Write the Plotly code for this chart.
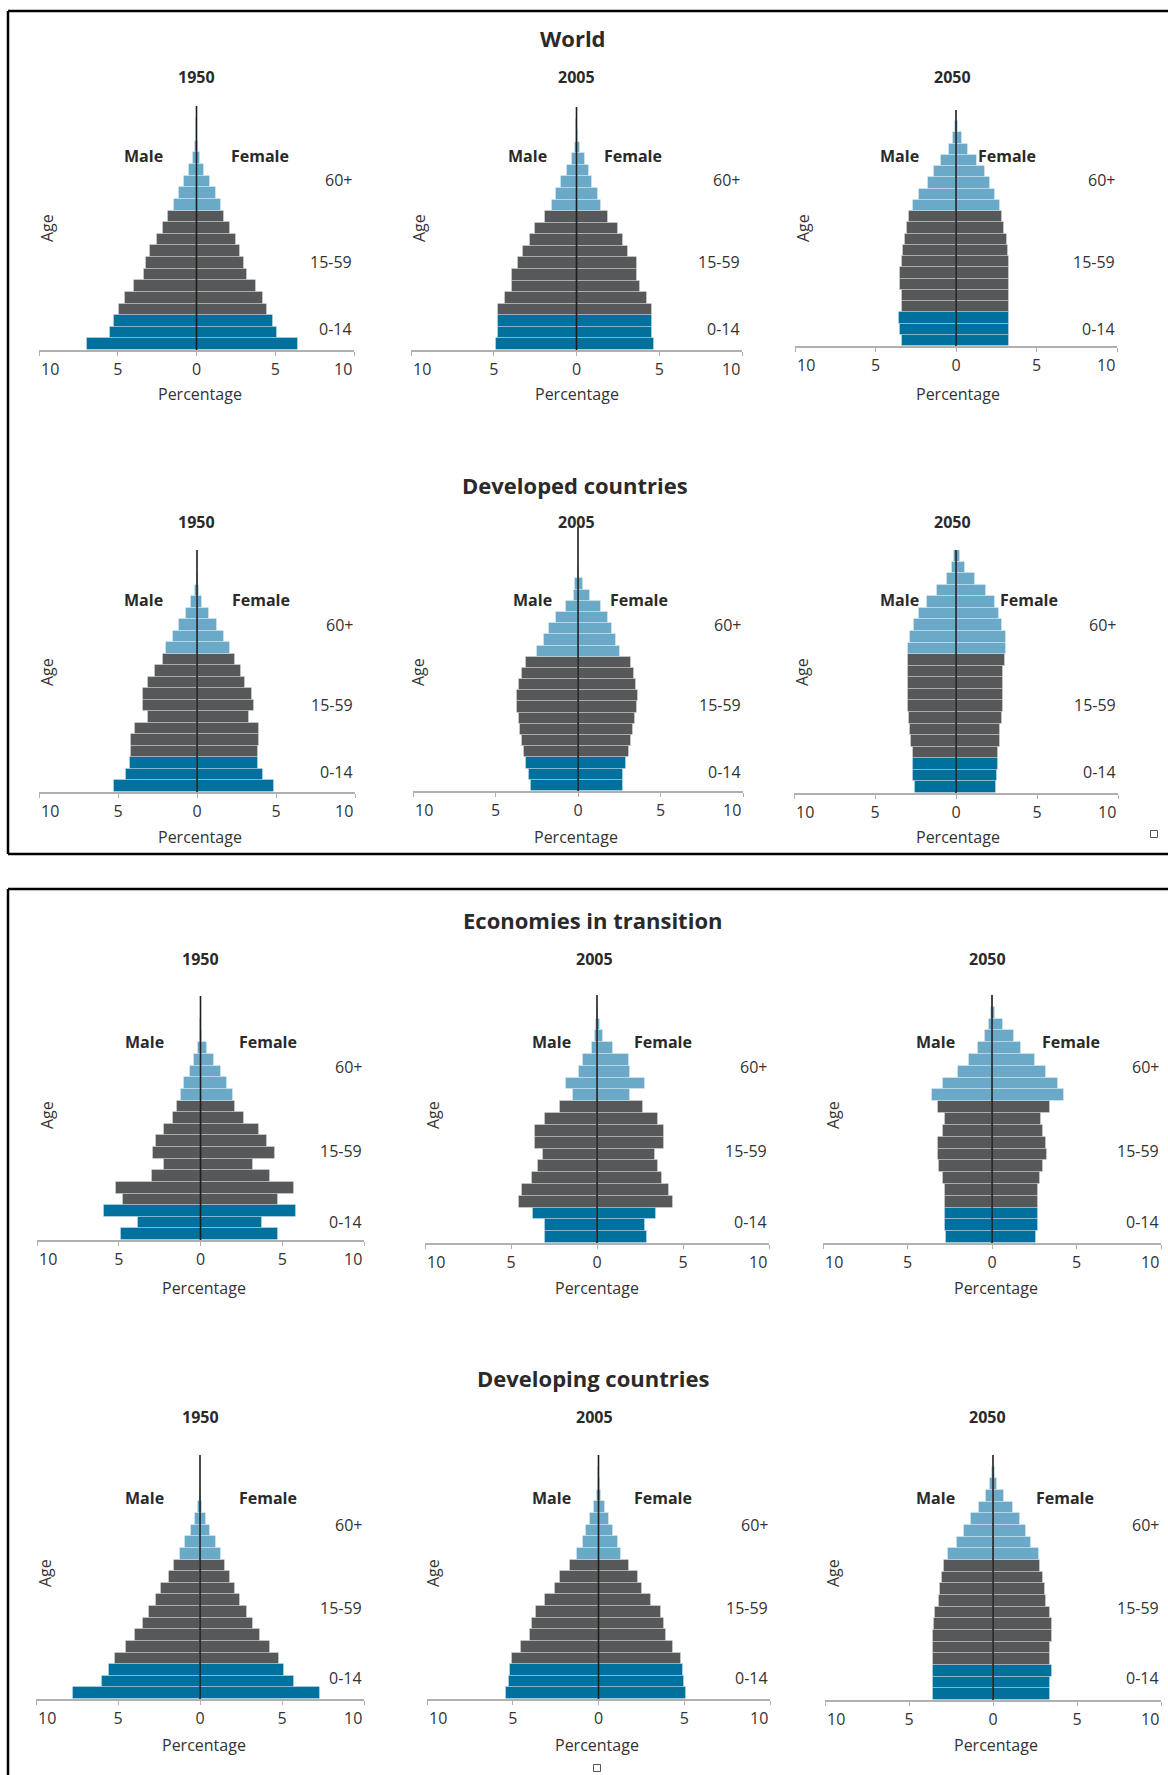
import plotly.graph_objects as go

W, H = 1168, 1775

# ---------------- data ----------------
AGES = ["0-4", "5-9", "10-14", "15-19", "20-24", "25-29", "30-34", "35-39", "40-44",
        "45-49", "50-54", "55-59", "60-64", "65-69", "70-74", "75-79", "80-84",
        "85-89", "90-94", "95-99", "100+"]
BROAD = ["0-14"] * 3 + ["15-59"] * 9 + ["60+"] * 9
BAND_LABELS = ["60+", "15-59", "0-14"]
REGIONS = ["World", "Developed countries", "Economies in transition", "Developing countries"]
YEARS = ["1950", "2005", "2050"]
TICK_VALS = [-10, -5, 0, 5, 10]
TICK_TEXT = ["", "5", "0", "5", ""]          # end labels drawn inset, see below
END_TICKS = [(-10, "10", "left"), (10, "10", "right")]

world_1950_m = [6.95, 5.5, 5.25, 4.9, 4.55, 3.96, 3.35, 3.2, 2.97, 2.54, 2.14, 1.8, 1.44, 1.1, 0.8, 0.49, 0.25, 0.08, 0.02, 0.005, 0]
world_1950_f = [6.42, 5.08, 4.87, 4.5, 4.24, 3.77, 3.18, 3.0, 2.75, 2.48, 2.12, 1.76, 1.53, 1.21, 0.85, 0.49, 0.21, 0.1, 0.03, 0.01, 0]
world_2005_m = [4.89, 4.77, 4.77, 4.77, 4.33, 3.87, 3.87, 3.52, 3.22, 2.82, 2.48, 1.91, 1.51, 1.21, 0.91, 0.6, 0.3, 0.1, 0.03, 0.01, 0]
world_2005_f = [4.67, 4.57, 4.57, 4.57, 4.23, 3.83, 3.63, 3.63, 3.12, 2.82, 2.52, 1.91, 1.51, 1.31, 0.95, 0.75, 0.5, 0.2, 0.1, 0.03, 0.01]
world_2050_m = [3.37, 3.47, 3.52, 3.33, 3.37, 3.47, 3.47, 3.37, 3.27, 3.16, 3.02, 2.94, 2.69, 2.28, 1.72, 1.37, 0.93, 0.41, 0.2, 0.05, 0.01]
world_2050_f = [3.31, 3.31, 3.31, 3.31, 3.31, 3.31, 3.31, 3.31, 3.25, 3.18, 2.98, 2.87, 2.73, 2.42, 2.11, 1.78, 1.28, 0.77, 0.35, 0.12, 0.03]

dev_1950_m = [5.28, 4.48, 4.27, 4.16, 4.16, 3.9, 3.1, 3.42, 3.42, 3.1, 2.64, 2.15, 1.96, 1.54, 1.16, 0.7, 0.36, 0.1, 0.03, 0.01, 0]
dev_1950_f = [4.86, 4.18, 3.87, 3.87, 3.95, 3.95, 3.27, 3.59, 3.48, 3.06, 2.79, 2.39, 2.11, 1.69, 1.27, 0.78, 0.32, 0.15, 0.05, 0.01, 0]
dev_2005_m = [2.85, 2.95, 3.15, 3.25, 3.39, 3.49, 3.6, 3.72, 3.72, 3.6, 3.39, 3.15, 2.48, 2.08, 1.74, 1.33, 0.73, 0.26, 0.16, 0.03, 0.01]
dev_2005_f = [2.71, 2.71, 2.91, 3.11, 3.21, 3.31, 3.47, 3.58, 3.62, 3.52, 3.41, 3.21, 2.57, 2.3, 2.06, 1.8, 1.39, 0.75, 0.28, 0.08, 0.02]
dev_2050_m = [2.55, 2.66, 2.66, 2.66, 2.78, 2.82, 2.88, 2.99, 2.99, 2.99, 2.99, 2.99, 2.99, 2.86, 2.62, 2.31, 1.79, 1.17, 0.56, 0.25, 0.1]
dev_2050_f = [2.49, 2.53, 2.6, 2.6, 2.74, 2.74, 2.84, 2.9, 2.9, 2.9, 2.9, 3.05, 3.09, 3.09, 2.84, 2.68, 2.43, 1.87, 1.19, 0.54, 0.27]

eit_1950_m = [4.87, 3.85, 5.89, 4.77, 5.18, 2.94, 2.26, 2.9, 2.73, 2.26, 1.71, 1.41, 1.2, 1.0, 0.65, 0.39, 0.18, 0.05, 0.01, 0, 0]
eit_1950_f = [4.71, 3.79, 5.87, 4.71, 5.73, 4.24, 3.22, 4.57, 4.04, 3.55, 2.67, 2.1, 1.96, 1.65, 1.24, 0.84, 0.37, 0.12, 0.03, 0.01, 0]
eit_2005_m = [3.02, 3.02, 3.7, 4.52, 4.36, 3.78, 3.43, 3.12, 3.59, 3.59, 3.0, 2.15, 1.41, 1.8, 1.07, 0.83, 0.31, 0.12, 0.05, 0.01, 0]
eit_2005_f = [2.91, 2.81, 3.43, 4.44, 4.2, 3.78, 3.53, 3.37, 3.91, 3.91, 3.53, 2.69, 1.92, 2.81, 1.92, 1.84, 0.95, 0.33, 0.2, 0.05, 0.01]
eit_2050_m = [2.7, 2.8, 2.8, 2.8, 2.8, 2.9, 3.13, 3.19, 3.19, 2.9, 2.8, 3.19, 3.53, 2.9, 2.01, 1.36, 0.83, 0.43, 0.2, 0.05, 0.01]
eit_2050_f = [2.62, 2.72, 2.72, 2.72, 2.72, 2.82, 3.01, 3.25, 3.17, 3.01, 2.92, 3.45, 4.24, 3.9, 3.17, 2.52, 1.73, 1.3, 0.65, 0.2, 0.06]

dvg_1950_m = [7.73, 6.0, 5.54, 5.19, 4.52, 3.94, 3.47, 3.1, 2.7, 2.35, 1.89, 1.6, 1.24, 0.89, 0.53, 0.32, 0.1, 0.03, 0.01, 0, 0]
dvg_1950_f = [7.32, 5.72, 5.15, 4.81, 4.24, 3.67, 3.23, 2.86, 2.45, 2.15, 1.81, 1.5, 1.3, 0.95, 0.59, 0.34, 0.12, 0.04, 0.01, 0, 0]
dvg_2005_m = [5.4, 5.2, 5.18, 5.05, 4.52, 4.02, 3.88, 3.65, 3.11, 2.56, 2.23, 1.69, 1.26, 0.93, 0.72, 0.49, 0.25, 0.1, 0.03, 0.01, 0]
dvg_2005_f = [5.1, 5.0, 4.91, 4.8, 4.37, 3.94, 3.83, 3.63, 3.05, 2.52, 2.29, 1.75, 1.32, 1.13, 0.87, 0.62, 0.35, 0.16, 0.06, 0.02, 0]
dvg_2050_m = [3.57, 3.57, 3.57, 3.57, 3.57, 3.57, 3.53, 3.47, 3.23, 3.13, 3.04, 2.9, 2.68, 2.14, 1.71, 1.29, 0.81, 0.4, 0.16, 0.05, 0.01]
dvg_2050_f = [3.37, 3.37, 3.51, 3.37, 3.37, 3.51, 3.51, 3.37, 3.17, 3.08, 2.98, 2.82, 2.72, 2.26, 1.96, 1.63, 1.17, 0.67, 0.24, 0.1, 0.02]

MALE = [world_1950_m, world_2005_m, world_2050_m, dev_1950_m, dev_2005_m, dev_2050_m,
        eit_1950_m, eit_2005_m, eit_2050_m, dvg_1950_m, dvg_2005_m, dvg_2050_m]
FEMALE = [world_1950_f, world_2005_f, world_2050_f, dev_1950_f, dev_2005_f, dev_2050_f,
          eit_1950_f, eit_2005_f, eit_2050_f, dvg_1950_f, dvg_2005_f, dvg_2050_f]

# ---------------- style / geometry (pixels) ----------------
COLORS = {"0-14": "#00709c", "15-59": "#575859", "60+": "#6aa9c8"}
FONT = "Open Sans"
TXT = "#2a2a2a"

# xl, xr, axis y, range-top y, centre-line top y
GEOM = [
    (39, 354, 350, 106, 106), (411, 742, 350, 107, 107), (795, 1117, 346, 110, 110),
    (39, 355, 792, 550, 550), (413, 743, 791, 556, 527), (794, 1118, 793, 550, 550),
    (37, 364, 1240, 996, 996), (425, 769, 1243, 995, 995), (823, 1161, 1243, 995, 995),
    (36, 364, 1699, 1455, 1455), (427, 770, 1699, 1455, 1455), (825, 1161, 1700, 1455, 1455),
]
# year title (x, y), male x, female x, sex-label y, age x, age y, percentage (x, y)
LABELS = [
    (196, 77, 143, 260, 156, 47, 228, 200, 394),
    (576, 77, 527, 633, 156, 419, 228, 577, 394),
    (952, 77, 899, 1007, 156, 803, 228, 958, 394),
    (196, 522, 143, 261, 600, 47, 672, 200, 837),
    (576, 522, 532, 639, 600, 418, 672, 576, 837),
    (952, 522, 899, 1029, 600, 802, 672, 958, 837),
    (200, 959, 144, 268, 1042, 47, 1115, 204, 1288),
    (594, 959, 551, 663, 1042, 433, 1115, 597, 1288),
    (987, 959, 935, 1071, 1042, 833, 1115, 996, 1288),
    (200, 1417, 144, 268, 1498, 45, 1573, 204, 1745),
    (594, 1417, 551, 663, 1498, 433, 1573, 597, 1745),
    (987, 1417, 935, 1065, 1498, 833, 1573, 996, 1745),
]
BAND_Y = [(180, 262, 329), (625, 705, 772), (1067, 1151, 1222), (1525, 1608, 1678)]
TITLE_POS = [(573, 38), (575, 485), (592, 920), (593, 1378)]
TICK_LABEL_DY = 19


def px(x):
    return x / W


def py(y):
    return 1 - y / H


def note(text, x, y, size=16, color="#333333", xanchor="center", angle=0):
    return dict(text=text, x=px(x), y=py(y), xref="paper", yref="paper",
                xanchor=xanchor, yanchor="middle", textangle=angle, showarrow=False,
                font=dict(family=FONT, size=size, color=color))


def pline(x0, y0, x1, y1, color="#000000", width=2.5):
    return dict(type="line", xref="paper", yref="paper", x0=px(x0), y0=py(y0),
                x1=px(x1), y1=py(y1), line=dict(color=color, width=width), layer="below")


fig = go.Figure()
annotations = []
shapes = []
bar_colors = [COLORS[b] for b in BROAD]

for k in range(12):
    n = k + 1
    xa = "x" if n == 1 else f"x{n}"
    ya_ = "y" if n == 1 else f"y{n}"
    xl, xr, yax, ytop, ltop = GEOM[k]
    region = REGIONS[k // 3]
    year = YEARS[k % 3]
    m = MALE[k]
    f = FEMALE[k]
    fig.add_trace(go.Bar(
        x=[-v for v in m], y=AGES, orientation="h", xaxis=xa, yaxis=ya_,
        marker=dict(color=bar_colors, line=dict(color="rgba(255,255,255,0.28)", width=1)),
        name=f"{region} {year} Male", showlegend=False,
        customdata=m, hovertemplate="Male %{y}: %{customdata}%<extra></extra>"))
    fig.add_trace(go.Bar(
        x=f, y=AGES, orientation="h", xaxis=xa, yaxis=ya_,
        marker=dict(color=bar_colors, line=dict(color="rgba(255,255,255,0.28)", width=1)),
        name=f"{region} {year} Female", showlegend=False,
        hovertemplate="Female %{y}: %{x}%<extra></extra>"))

    key_x = "xaxis" if n == 1 else f"xaxis{n}"
    key_y = "yaxis" if n == 1 else f"yaxis{n}"
    fig.layout[key_x] = dict(
        domain=[px(xl), px(xr)], range=[-10, 10], anchor=ya_,
        tickvals=TICK_VALS, ticktext=TICK_TEXT, showgrid=False, zeroline=False,
        showline=True, linecolor="#b0b0b0", linewidth=1.5,
        ticks="outside", ticklen=4, tickcolor="#b0b0b0", tickwidth=1.3,
        ticklabelstandoff=0,
        tickfont=dict(family=FONT, size=16, color="#333333"), fixedrange=True)
    fig.layout[key_y] = dict(
        domain=[py(yax), py(ytop)], range=[-0.5, 20.5], anchor=xa,
        type="category", categoryorder="array", categoryarray=AGES,
        showticklabels=False, showgrid=False, zeroline=False, showline=False,
        ticks="", fixedrange=True)

    # end tick labels, inset to the axis ends as in the reference
    for tv, tt, anc in END_TICKS:
        annotations.append(dict(text=tt, x=tv, xref=xa, y=py(yax + TICK_LABEL_DY), yref="paper",
                                xanchor=anc, yanchor="middle", showarrow=False,
                                font=dict(family=FONT, size=16, color="#333333")))

    # centre line
    top_frac = (yax - ltop) / (yax - ytop)
    shapes.append(dict(type="line", xref=xa, yref=f"{ya_} domain", x0=0, x1=0,
                       y0=0, y1=top_frac, line=dict(color="#1e1e1e", width=1.6),
                       layer="above"))

    yx, yy, mx, fx, sy, agx, agy, pcx, pcy = LABELS[k]
    annotations.append(note(f"<b>{year}</b>", yx, yy, color=TXT))
    annotations.append(note("<b>Male</b>", mx, sy, color=TXT))
    annotations.append(note("<b>Female</b>", fx, sy, color=TXT))
    annotations.append(note("Age", agx, agy, angle=-90))
    annotations.append(note("Percentage", pcx, pcy))
    for lab, ly in zip(BAND_LABELS, BAND_Y[k // 3]):
        annotations.append(note(lab, xr, ly, xanchor="right"))

for title, (tx, ty) in zip(REGIONS, TITLE_POS):
    annotations.append(note(f"<b>{title}</b>", tx, ty, size=22, color=TXT))

# frames (open on the right, like the reference crop)
shapes += [
    pline(8, 11, W, 11), pline(8, 11, 8, 854), pline(8, 854, W, 854),
    pline(8, 889, W, 889), pline(8, 889, 8, H),
]
# small square marks
for sx, sy in [(1154, 834), (597, 1768)]:
    shapes.append(dict(type="rect", xref="paper", yref="paper",
                       x0=px(sx - 3.5), x1=px(sx + 3.5), y0=py(sy + 3.5), y1=py(sy - 3.5),
                       line=dict(color="#555555", width=1), fillcolor="white"))

fig.update_layout(
    width=W, height=H, margin=dict(l=0, r=0, t=0, b=0, autoexpand=False),
    autosize=False,
    paper_bgcolor="white", plot_bgcolor="rgba(0,0,0,0)",
    barmode="overlay", bargap=0,
    annotations=annotations, shapes=shapes,
    font=dict(family=FONT, color=TXT),
)

fig.write_html("out.html",
               config={"displayModeBar": False, "responsive": False},
               post_script="document.body.style.margin='0';document.body.style.overflow='hidden';")
